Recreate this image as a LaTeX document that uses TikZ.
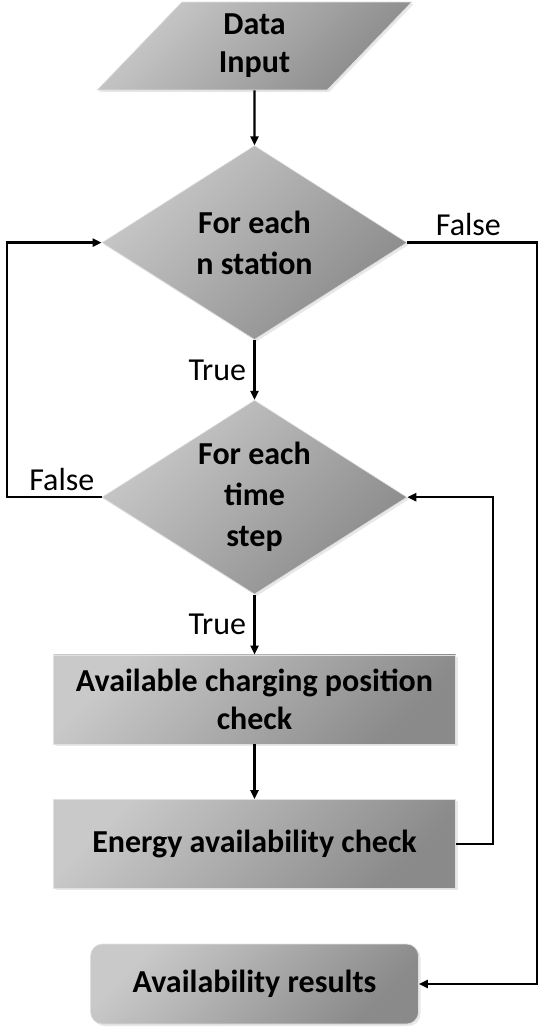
\documentclass[tikz,border=0pt]{standalone}
\usepackage{fontspec}
\setmainfont{Carlito}
\usepackage{tikz}
\usetikzlibrary{shapes,arrows.meta,positioning,shadows}

\begin{document}
\begin{tikzpicture}[node distance=55pt, font=\fontsize{32}{38}\selectfont,
    >={Triangle[length=9pt,width=8pt]},
    shadefill/.style={top color=black!21, bottom color=black!46, shading angle=45, draw=black!12, line width=0.6pt,
        drop shadow={opacity=0.18, shadow xshift=2pt, shadow yshift=-2pt}},
    io/.style={shadefill, trapezium, trapezium left angle=57, trapezium right angle=123, trapezium stretches=true,
        minimum width=315pt, minimum height=88pt, inner sep=0pt, align=center, font=\fontsize{32}{38}\selectfont\bfseries},
    decision/.style={shadefill, diamond, aspect=1.57, minimum width=305pt, minimum height=194pt, inner sep=0pt,
        align=center, font=\fontsize{32}{41}\selectfont\bfseries},
    process/.style={shadefill, rectangle, minimum width=402pt, minimum height=89pt, align=center,
        font=\fontsize{32}{38}\selectfont\bfseries},
    terminal/.style={shadefill, rectangle, rounded corners=12pt, minimum width=328pt, minimum height=80pt,
        align=center, font=\fontsize{32}{38}\selectfont\bfseries},
    conn/.style={->, line width=2.3pt}]
    \useasboundingbox (0,0) rectangle (541pt,-1028pt);

    % Input and the two loops
    \node[io] (input) at (254.5pt,-46pt) {Data\\Input};
    \node[decision, below=55pt of input] (station) {For each\\n station};
    \node[decision, below=60pt of station] (timestep) {For each\\time\\step};

    % Checks inside the time loop
    \node[process, below=60pt of timestep] (position) {Available charging position\\check};
    \node[process, below=55pt of position] (energy) {Energy availability check};

    % Output
    \node[terminal, below=55pt of energy] (results) {Availability results};

    % Main flow
    \draw[conn] (input) -- (station);
    \draw[conn] (station) -- node[left=4pt] {True} (timestep);
    \draw[conn] (timestep) -- node[left=4pt] {True} (position);
    \draw[conn] (position) -- (energy);

    % Loop backs
    \draw[conn] (energy.east) -- ++(37pt,0) |- (timestep.east);
    \draw[conn] (timestep.west) -- node[above=2pt, pos=0.42] {False} ++(-95pt,0) |- (station.west);

    % Exit to results
    \draw[conn] (station.east) -- node[above=2pt, pos=0.47] {False} ++(130pt,0) |- (results.east);
\end{tikzpicture}
\end{document}
